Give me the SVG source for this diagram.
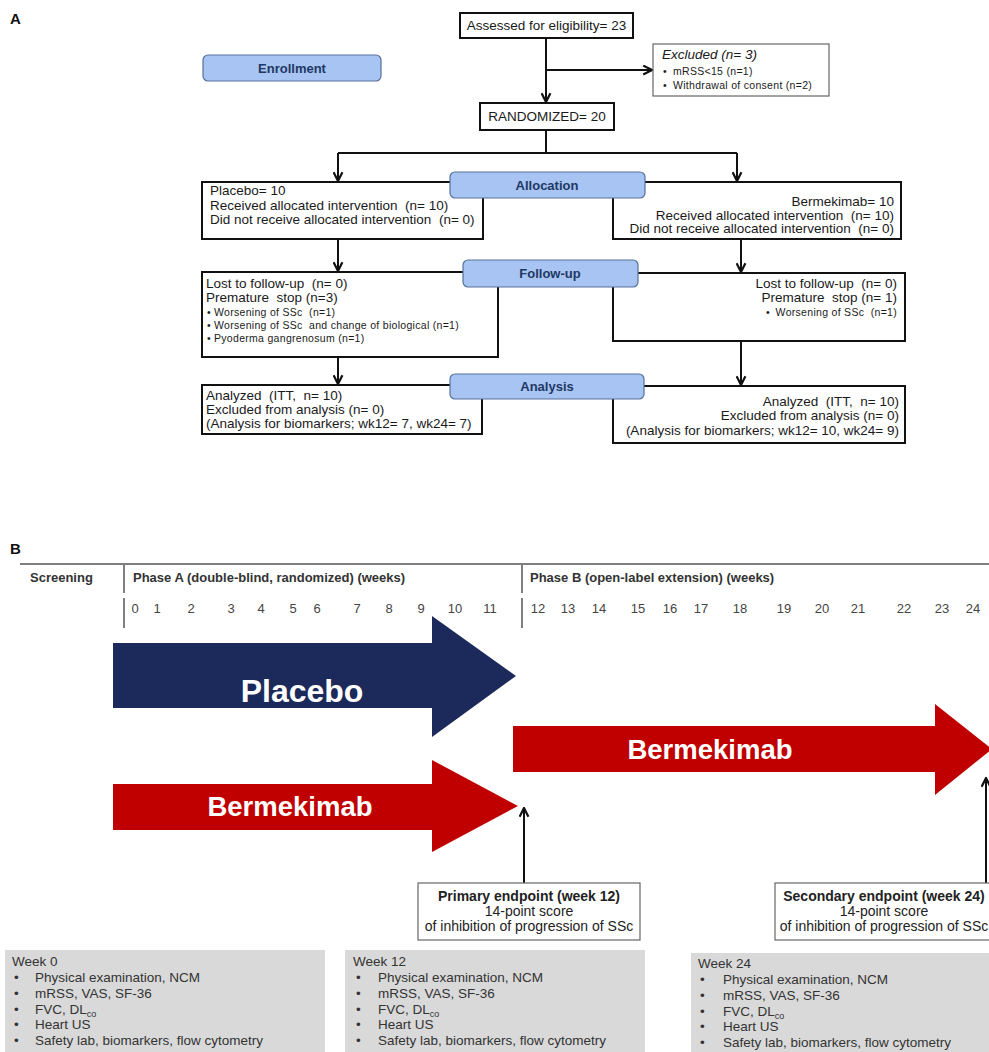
<svg xmlns="http://www.w3.org/2000/svg" width="989" height="1052" viewBox="0 0 989 1052">
<defs>
<style>
.box{fill:#fff;stroke:#111;stroke-width:2}
.thin{fill:#fff;stroke:#666;stroke-width:1.2}
.lbl{fill:#A7C4F2;stroke:#56719C;stroke-width:1.2}
.lt{font-family:'Liberation Sans',Arial,sans-serif;font-weight:bold;font-size:13px;fill:#1F3864;text-anchor:middle}
.t{font-family:'Liberation Sans',Arial,sans-serif;font-size:13.5px;fill:#1a1a1a}
.s{font-family:'Liberation Sans',Arial,sans-serif;font-size:10.5px;fill:#1a1a1a;letter-spacing:0.3px}
.e{text-anchor:end}
.m{text-anchor:middle}
.b{font-weight:bold}
.conn{stroke:#111;stroke-width:2;fill:none}
.g{fill:#D9D9D9}
.gt{font-family:'Liberation Sans',Arial,sans-serif;font-size:13.5px;fill:#333}
.et{font-family:'Liberation Sans',Arial,sans-serif;font-size:14px;fill:#222;text-anchor:middle}
.hd{font-family:'Liberation Sans',Arial,sans-serif;font-size:13px;font-weight:bold;fill:#333}
.wk{font-family:'Liberation Sans',Arial,sans-serif;font-size:13px;fill:#444;text-anchor:middle}
.big{font-family:'Liberation Sans',Arial,sans-serif;font-weight:bold;fill:#fff;text-anchor:middle}
</style>
<marker id="ah" viewBox="0 0 10 10" refX="9" refY="5" markerWidth="11" markerHeight="11" markerUnits="userSpaceOnUse" orient="auto">
<path d="M1,1 L9,5 L1,9" fill="none" stroke="#111" stroke-width="2"/>
</marker>
</defs>
<rect width="989" height="1052" fill="#fff"/>

<text x="10" y="24" style="font-family:'Liberation Sans',Arial,sans-serif;font-weight:bold;font-size:15px" fill="#111">A</text>

<g id="connectors">
<path class="conn" d="M546,38 V102" marker-end="url(#ah)"/>
<path class="conn" d="M546,70 H652" marker-end="url(#ah)"/>
<path class="conn" d="M546,130 V153 M338,153 H737"/>
<path class="conn" d="M338,153 V181" marker-end="url(#ah)"/>
<path class="conn" d="M737,153 V181" marker-end="url(#ah)"/>
<path class="conn" d="M338,239 V271" marker-end="url(#ah)"/>
<path class="conn" d="M741,239 V272" marker-end="url(#ah)"/>
<path class="conn" d="M338,357 V384" marker-end="url(#ah)"/>
<path class="conn" d="M741,341 V385" marker-end="url(#ah)"/>
</g>

<g id="enrollment">
<rect class="lbl" x="203" y="55" width="178" height="26" rx="5"/>
<text class="lt" x="292" y="73">Enrollment</text>
</g>
<g id="assessed">
<rect class="box" x="460" y="13" width="173" height="25"/>
<text class="t m" x="546.5" y="30">Assessed for eligibility= 23</text>
</g>
<g id="excluded">
<rect class="thin" x="653" y="44" width="176" height="52"/>
<text class="t" x="662" y="59" font-style="italic">Excluded (n= 3)</text>
<text class="s" x="663" y="75" fill="#3C8C3C">•</text>
<text class="s" x="673" y="75">mRSS&lt;15 (n=1)</text>
<text class="s" x="663" y="89" fill="#3C8C3C">•</text>
<text class="s" x="673" y="89">Withdrawal of consent (n=2)</text>
</g>
<g id="randomized">
<rect class="box" x="480" y="103" width="134" height="27"/>
<text class="t m" x="547" y="121">RANDOMIZED= 20</text>
</g>

<g id="placebo-alloc">
<rect class="box" x="202" y="182" width="281" height="57"/>
<text class="t" x="210" y="195">Placebo= 10</text>
<text class="t" x="210" y="210">Received allocated intervention&#160; (n= 10)</text>
<text class="t" x="210" y="224">Did not receive allocated intervention&#160; (n= 0)</text>
</g>
<g id="bermekimab-alloc">
<rect class="box" x="613" y="182" width="288" height="57"/>
<text class="t e" x="894" y="206">Bermekimab= 10</text>
<text class="t e" x="894" y="220">Received allocated intervention&#160; (n= 10)</text>
<text class="t e" x="894" y="233">Did not receive allocated intervention&#160; (n= 0)</text>
</g>
<g id="allocation">
<rect class="lbl" x="450" y="172" width="195" height="26" rx="5"/>
<text class="lt" x="547" y="190">Allocation</text>
</g>

<g id="placebo-followup">
<rect class="box" x="202" y="272" width="296" height="85"/>
<text class="t" x="206" y="288">Lost to follow-up&#160; (n= 0)</text>
<text class="t" x="206" y="302">Premature&#160; stop (n=3)</text>
<text class="s" x="207" y="316">•</text><text class="s" x="214" y="316">Worsening of SSc&#160; (n=1)</text>
<text class="s" x="207" y="329">•</text><text class="s" x="214" y="329">Worsening of SSc&#160; and change of biological (n=1)</text>
<text class="s" x="207" y="342">•</text><text class="s" x="214" y="342">Pyoderma gangrenosum (n=1)</text>
</g>
<g id="bermekimab-followup">
<rect class="box" x="613" y="273" width="292" height="68"/>
<text class="t e" x="897" y="288">Lost to follow-up&#160; (n= 0)</text>
<text class="t e" x="897" y="302">Premature&#160; stop (n= 1)</text>
<text class="s" x="766" y="316">•</text>
<text class="s e" x="897" y="316">Worsening of SSc&#160; (n=1)</text>
</g>
<g id="followup">
<rect class="lbl" x="463" y="260" width="175" height="27" rx="5"/>
<text class="lt" x="550" y="278">Follow-up</text>
</g>

<g id="placebo-analysis">
<rect class="box" x="202" y="385" width="280" height="49"/>
<text class="t" x="206" y="400">Analyzed&#160; (ITT,&#160; n= 10)</text>
<text class="t" x="206" y="414">Excluded from analysis (n= 0)</text>
<text class="t" x="206" y="428">(Analysis for biomarkers; wk12= 7, wk24= 7)</text>
</g>
<g id="bermekimab-analysis">
<rect class="box" x="613" y="386" width="292" height="57"/>
<text class="t e" x="899" y="406">Analyzed&#160; (ITT,&#160; n= 10)</text>
<text class="t e" x="899" y="420">Excluded from analysis (n= 0)</text>
<text class="t e" x="899" y="435">(Analysis for biomarkers; wk12= 10, wk24= 9)</text>
</g>
<g id="analysis">
<rect class="lbl" x="450" y="374" width="194" height="25" rx="5"/>
<text class="lt" x="547" y="391">Analysis</text>
</g>

<text x="10" y="554" style="font-family:'Liberation Sans',Arial,sans-serif;font-weight:bold;font-size:15px" fill="#111">B</text>

<g id="timeline">
<path d="M20,564 H989" stroke="#555" stroke-width="1.5"/>
<path d="M124,565 V593 M124,598 V628 M522,565 V593 M522,598 V628" stroke="#555" stroke-width="1.5"/>
<text class="hd" x="30" y="582">Screening</text>
<text class="hd" x="133" y="582">Phase A (double-blind, randomized) (weeks)</text>
<text class="hd" x="530" y="582">Phase B (open-label extension) (weeks)</text>
<text class="wk" x="135" y="613">0</text>
<text class="wk" x="157" y="613">1</text>
<text class="wk" x="191" y="613">2</text>
<text class="wk" x="231" y="613">3</text>
<text class="wk" x="261" y="613">4</text>
<text class="wk" x="293" y="613">5</text>
<text class="wk" x="317" y="613">6</text>
<text class="wk" x="357" y="613">7</text>
<text class="wk" x="389" y="613">8</text>
<text class="wk" x="421" y="613">9</text>
<text class="wk" x="455" y="613">10</text>
<text class="wk" x="490" y="613">11</text>
<text class="wk" x="538" y="613">12</text>
<text class="wk" x="568" y="613">13</text>
<text class="wk" x="599" y="613">14</text>
<text class="wk" x="638" y="613">15</text>
<text class="wk" x="670" y="613">16</text>
<text class="wk" x="701" y="613">17</text>
<text class="wk" x="740" y="613">18</text>
<text class="wk" x="784" y="613">19</text>
<text class="wk" x="822" y="613">20</text>
<text class="wk" x="858" y="613">21</text>
<text class="wk" x="904" y="613">22</text>
<text class="wk" x="942" y="613">23</text>
<text class="wk" x="973" y="613">24</text>
</g>

<g id="placebo-arrow">
<polygon points="113,643 432,643 432,616 516,676 432,737 432,708 113,708" fill="#1B2A5B"/>
<text class="big" x="302" y="702" font-size="32">Placebo</text>
</g>
<g id="bermekimab-arrow-a">
<polygon points="113,784 432,784 432,760 518,806 432,852 432,830 113,830" fill="#C00000"/>
<text class="big" x="290" y="816" font-size="27.5">Bermekimab</text>
</g>
<g id="bermekimab-arrow-b">
<polygon points="513,726 935,726 935,704 992,749 935,795 935,772 513,772" fill="#C00000"/>
<text class="big" x="710" y="759" font-size="27.5">Bermekimab</text>
</g>

<g id="endpoint-arrows">
<path class="conn" d="M524,883 V808" marker-end="url(#ah)"/>
<path class="conn" d="M986,883 V778" marker-end="url(#ah)"/>
</g>

<g id="primary">
<rect class="thin" x="418" y="883" width="222" height="57"/>
<text class="et b" x="529" y="901" font-size="13.5">Primary endpoint (week 12)</text>
<text class="et" x="529" y="916">14-point score</text>
<text class="et" x="529" y="931">of inhibition of progression of SSc</text>
</g>
<g id="secondary">
<rect class="thin" x="775" y="883" width="216" height="57"/>
<text class="et b" x="884" y="901" font-size="13.5">Secondary endpoint (week 24)</text>
<text class="et" x="884" y="916" font-size="13.5">14-point score</text>
<text class="et" x="884" y="931" font-size="13.5">of inhibition of progression of SSc</text>
</g>

<g id="week0">
<rect class="g" x="5" y="950" width="320" height="102"/>
<text class="gt" x="12" y="966">Week 0</text>
<text class="gt" x="14" y="982">•</text><text class="gt" x="35" y="982">Physical examination, NCM</text>
<text class="gt" x="14" y="998">•</text><text class="gt" x="35" y="998">mRSS, VAS, SF-36</text>
<text class="gt" x="14" y="1014">•</text><text class="gt" x="35" y="1014">FVC, DL<tspan font-size="9" dy="3">co</tspan></text>
<text class="gt" x="14" y="1029">•</text><text class="gt" x="35" y="1029">Heart US</text>
<text class="gt" x="14" y="1045">•</text><text class="gt" x="35" y="1045">Safety lab, biomarkers, flow cytometry</text>
</g>
<g id="week12">
<rect class="g" x="345" y="950" width="300" height="102"/>
<text class="gt" x="353" y="966">Week 12</text>
<text class="gt" x="356" y="982">•</text><text class="gt" x="378" y="982">Physical examination, NCM</text>
<text class="gt" x="356" y="998">•</text><text class="gt" x="378" y="998">mRSS, VAS, SF-36</text>
<text class="gt" x="356" y="1014">•</text><text class="gt" x="378" y="1014">FVC, DL<tspan font-size="9" dy="3">co</tspan></text>
<text class="gt" x="356" y="1029">•</text><text class="gt" x="378" y="1029">Heart US</text>
<text class="gt" x="356" y="1045">•</text><text class="gt" x="378" y="1045">Safety lab, biomarkers, flow cytometry</text>
</g>
<g id="week24">
<rect class="g" x="691" y="953" width="298" height="99"/>
<text class="gt" x="698" y="968">Week 24</text>
<text class="gt" x="700" y="984">•</text><text class="gt" x="723" y="984">Physical examination, NCM</text>
<text class="gt" x="700" y="1000">•</text><text class="gt" x="723" y="1000">mRSS, VAS, SF-36</text>
<text class="gt" x="700" y="1016">•</text><text class="gt" x="723" y="1016">FVC, DL<tspan font-size="9" dy="3">co</tspan></text>
<text class="gt" x="700" y="1031">•</text><text class="gt" x="723" y="1031">Heart US</text>
<text class="gt" x="700" y="1047">•</text><text class="gt" x="723" y="1047">Safety lab, biomarkers, flow cytometry</text>
</g>
</svg>
